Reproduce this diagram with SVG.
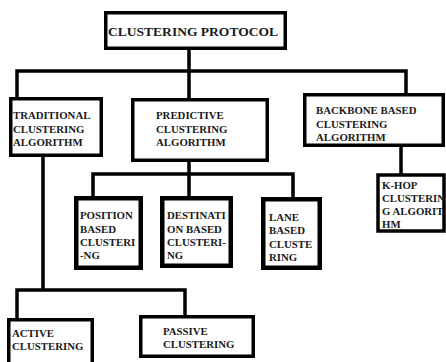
<svg xmlns="http://www.w3.org/2000/svg" width="446" height="362" viewBox="0 0 446 362">
<style>
.box{fill:#fff;stroke:#000;stroke-width:3.5}
.bx2{fill:#fff;stroke:#000;stroke-width:4.5}
.ln{fill:none;stroke:#000;stroke-width:3.5;stroke-linecap:square}
text{font-family:"Liberation Serif","Times New Roman",serif;font-weight:bold;font-size:10.8px;fill:#1a1a1a}
.big{font-size:13.5px}
</style>
<rect width="446" height="362" fill="#fff"/>
<g id="connectors">
<path class="ln" d="M189 50 V98 M17 71 H406 M17 71 V97 M406 71 V93"/>
<path class="ln" d="M43 157 V290 M17 290 H185 M17 290 V318 M185 290 V315"/>
<path class="ln" d="M189 162 V196 M93 174 H293 M93 174 V196 M293 174 V197"/>
<path class="ln" d="M401 147 V173"/>
</g>
<g id="clustering-protocol">
<rect class="box" x="105.75" y="12.75" width="179.5" height="35.5"/>
<text class="big" x="108" y="36" textLength="170" lengthAdjust="spacingAndGlyphs">CLUSTERING PROTOCOL</text>
</g>
<g id="traditional">
<rect class="box" x="10.75" y="98.75" width="90.5" height="56.5"/>
<text x="13" y="118.5">TRADITIONAL</text>
<text x="13" y="132.5">CLUSTERING</text>
<text x="13" y="146">ALGORITHM</text>
</g>
<g id="predictive">
<rect class="box" x="132.75" y="99.75" width="134.5" height="60.5"/>
<text x="156" y="118.5">PREDICTIVE</text>
<text x="156" y="132.5">CLUSTERING</text>
<text x="156" y="146">ALGORITHM</text>
</g>
<g id="backbone">
<rect class="box" x="304.75" y="94.75" width="138.5" height="50.5"/>
<text x="316" y="114">BACKBONE BASED</text>
<text x="316" y="127.5">CLUSTERING</text>
<text x="316" y="141">ALGORITHM</text>
</g>
<g id="khop">
<rect class="box" x="378" y="175" width="66" height="56"/>
<text x="382" y="188.5">K-HOP</text>
<text x="382" y="201.5">CLUSTERIN</text>
<text x="382" y="215">G ALGORIT</text>
<text x="382" y="228">HM</text>
</g>
<g id="position">
<rect class="bx2" x="76.25" y="198.25" width="64.5" height="69.5"/>
<text x="80" y="219">POSITION</text>
<text x="80" y="232.5">BASED</text>
<text x="80" y="246">CLUSTERI</text>
<text x="80" y="259">-NG</text>
</g>
<g id="destination">
<rect class="bx2" x="162.25" y="198.25" width="68.5" height="67.5"/>
<text x="167" y="219">DESTINATI</text>
<text x="167" y="232.5">ON BASED</text>
<text x="167" y="246">CLUSTERI-</text>
<text x="167" y="259">NG</text>
</g>
<g id="lane">
<rect class="bx2" x="263.25" y="199.25" width="56.5" height="68.5"/>
<text x="269" y="220.5">LANE</text>
<text x="269" y="234">BASED</text>
<text x="269" y="247.5">CLUSTE</text>
<text x="269" y="261">RING</text>
</g>
<g id="active">
<rect class="box" x="8.75" y="319.75" width="83.5" height="60"/>
<text x="12" y="337">ACTIVE</text>
<text x="12" y="350">CLUSTERING</text>
</g>
<g id="passive">
<rect class="box" x="140.75" y="316.75" width="112.5" height="39.5"/>
<text x="163" y="335">PASSIVE</text>
<text x="163" y="348">CLUSTERING</text>
</g>
</svg>
